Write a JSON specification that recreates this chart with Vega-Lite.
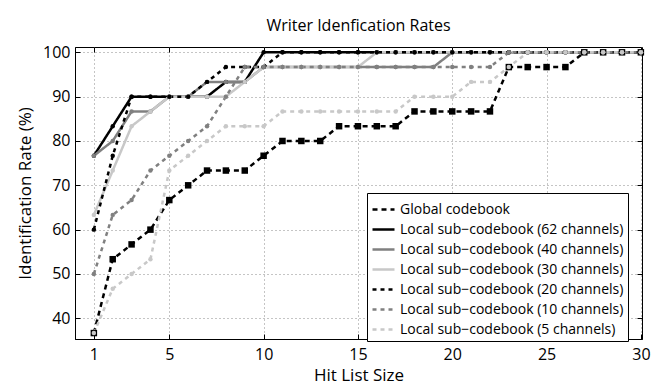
{
  "$schema": "https://vega.github.io/schema/vega-lite/v6.json",
  "width": 567,
  "height": 292,
  "autosize": {"type": "none"},
  "padding": {"left": 75, "top": 47, "right": 11, "bottom": 46},
  "background": "white",
  "title": {"text": "Writer Idenfication Rates", "fontSize": 16, "font": "Open Sans", "fontWeight": "normal", "color": "black", "offset": 10},
  "config": {
    "view": {"stroke": "black", "strokeWidth": 1},
    "font": "Open Sans",
    "axis": {"labelFont": "Open Sans", "titleFont": "Open Sans", "labelFontSize": 16, "titleFontSize": 17, "titleFontWeight": "normal", "labelColor": "black", "titleColor": "black", "domainColor": "black", "tickColor": "black", "gridColor": "#8a8a8a", "gridDash": [1, 3], "gridOpacity": 1, "tickSize": -5, "domainWidth": 1},
    "legend": {"orient": "none", "legendX": 292, "legendY": 146, "strokeColor": "black", "fillColor": "white", "padding": 4, "labelFont": "Open Sans", "labelFontSize": 14, "labelColor": "black", "labelLimit": 400, "symbolType": "stroke", "symbolSize": 484, "symbolStrokeWidth": 2.5, "rowPadding": -4.5, "labelOffset": 4}
  },
  "data": {"values": [
    {"x": 1, "Global codebook": 36.67, "Local sub−codebook (62 channels)": 76.67, "Local sub−codebook (40 channels)": 76.67, "Local sub−codebook (30 channels)": 63.33, "Local sub−codebook (20 channels)": 60, "Local sub−codebook (10 channels)": 50, "Local sub−codebook (5 channels)": 36.67},
    {"x": 2, "Global codebook": 53.33, "Local sub−codebook (62 channels)": 83.33, "Local sub−codebook (40 channels)": 80, "Local sub−codebook (30 channels)": 73.33, "Local sub−codebook (20 channels)": 76.67, "Local sub−codebook (10 channels)": 63.33, "Local sub−codebook (5 channels)": 46.67},
    {"x": 3, "Global codebook": 56.67, "Local sub−codebook (62 channels)": 90, "Local sub−codebook (40 channels)": 86.67, "Local sub−codebook (30 channels)": 83.33, "Local sub−codebook (20 channels)": 90, "Local sub−codebook (10 channels)": 66.67, "Local sub−codebook (5 channels)": 50},
    {"x": 4, "Global codebook": 60, "Local sub−codebook (62 channels)": 90, "Local sub−codebook (40 channels)": 86.67, "Local sub−codebook (30 channels)": 86.67, "Local sub−codebook (20 channels)": 90, "Local sub−codebook (10 channels)": 73.33, "Local sub−codebook (5 channels)": 53.33},
    {"x": 5, "Global codebook": 66.67, "Local sub−codebook (62 channels)": 90, "Local sub−codebook (40 channels)": 90, "Local sub−codebook (30 channels)": 90, "Local sub−codebook (20 channels)": 90, "Local sub−codebook (10 channels)": 76.67, "Local sub−codebook (5 channels)": 73.33},
    {"x": 6, "Global codebook": 70, "Local sub−codebook (62 channels)": 90, "Local sub−codebook (40 channels)": 90, "Local sub−codebook (30 channels)": 90, "Local sub−codebook (20 channels)": 90, "Local sub−codebook (10 channels)": 80, "Local sub−codebook (5 channels)": 76.67},
    {"x": 7, "Global codebook": 73.33, "Local sub−codebook (62 channels)": 90, "Local sub−codebook (40 channels)": 93.33, "Local sub−codebook (30 channels)": 90, "Local sub−codebook (20 channels)": 93.33, "Local sub−codebook (10 channels)": 83.33, "Local sub−codebook (5 channels)": 80},
    {"x": 8, "Global codebook": 73.33, "Local sub−codebook (62 channels)": 93.33, "Local sub−codebook (40 channels)": 93.33, "Local sub−codebook (30 channels)": 90, "Local sub−codebook (20 channels)": 96.67, "Local sub−codebook (10 channels)": 90, "Local sub−codebook (5 channels)": 83.33},
    {"x": 9, "Global codebook": 73.33, "Local sub−codebook (62 channels)": 93.33, "Local sub−codebook (40 channels)": 93.33, "Local sub−codebook (30 channels)": 93.33, "Local sub−codebook (20 channels)": 96.67, "Local sub−codebook (10 channels)": 96.67, "Local sub−codebook (5 channels)": 83.33},
    {"x": 10, "Global codebook": 76.67, "Local sub−codebook (62 channels)": 100, "Local sub−codebook (40 channels)": 96.67, "Local sub−codebook (30 channels)": 96.67, "Local sub−codebook (20 channels)": 96.67, "Local sub−codebook (10 channels)": 96.67, "Local sub−codebook (5 channels)": 83.33},
    {"x": 11, "Global codebook": 80, "Local sub−codebook (62 channels)": 100, "Local sub−codebook (40 channels)": 96.67, "Local sub−codebook (30 channels)": 96.67, "Local sub−codebook (20 channels)": 100, "Local sub−codebook (10 channels)": 96.67, "Local sub−codebook (5 channels)": 86.67},
    {"x": 12, "Global codebook": 80, "Local sub−codebook (62 channels)": 100, "Local sub−codebook (40 channels)": 96.67, "Local sub−codebook (30 channels)": 96.67, "Local sub−codebook (20 channels)": 100, "Local sub−codebook (10 channels)": 96.67, "Local sub−codebook (5 channels)": 86.67},
    {"x": 13, "Global codebook": 80, "Local sub−codebook (62 channels)": 100, "Local sub−codebook (40 channels)": 96.67, "Local sub−codebook (30 channels)": 96.67, "Local sub−codebook (20 channels)": 100, "Local sub−codebook (10 channels)": 96.67, "Local sub−codebook (5 channels)": 86.67},
    {"x": 14, "Global codebook": 83.33, "Local sub−codebook (62 channels)": 100, "Local sub−codebook (40 channels)": 96.67, "Local sub−codebook (30 channels)": 96.67, "Local sub−codebook (20 channels)": 100, "Local sub−codebook (10 channels)": 96.67, "Local sub−codebook (5 channels)": 86.67},
    {"x": 15, "Global codebook": 83.33, "Local sub−codebook (62 channels)": 100, "Local sub−codebook (40 channels)": 96.67, "Local sub−codebook (30 channels)": 96.67, "Local sub−codebook (20 channels)": 100, "Local sub−codebook (10 channels)": 96.67, "Local sub−codebook (5 channels)": 86.67},
    {"x": 16, "Global codebook": 83.33, "Local sub−codebook (62 channels)": 100, "Local sub−codebook (40 channels)": 96.67, "Local sub−codebook (30 channels)": 100, "Local sub−codebook (20 channels)": 100, "Local sub−codebook (10 channels)": 96.67, "Local sub−codebook (5 channels)": 86.67},
    {"x": 17, "Global codebook": 83.33, "Local sub−codebook (62 channels)": 100, "Local sub−codebook (40 channels)": 96.67, "Local sub−codebook (30 channels)": 100, "Local sub−codebook (20 channels)": 100, "Local sub−codebook (10 channels)": 96.67, "Local sub−codebook (5 channels)": 86.67},
    {"x": 18, "Global codebook": 86.67, "Local sub−codebook (62 channels)": 100, "Local sub−codebook (40 channels)": 96.67, "Local sub−codebook (30 channels)": 100, "Local sub−codebook (20 channels)": 100, "Local sub−codebook (10 channels)": 96.67, "Local sub−codebook (5 channels)": 90},
    {"x": 19, "Global codebook": 86.67, "Local sub−codebook (62 channels)": 100, "Local sub−codebook (40 channels)": 96.67, "Local sub−codebook (30 channels)": 100, "Local sub−codebook (20 channels)": 100, "Local sub−codebook (10 channels)": 96.67, "Local sub−codebook (5 channels)": 90},
    {"x": 20, "Global codebook": 86.67, "Local sub−codebook (62 channels)": 100, "Local sub−codebook (40 channels)": 100, "Local sub−codebook (30 channels)": 100, "Local sub−codebook (20 channels)": 100, "Local sub−codebook (10 channels)": 96.67, "Local sub−codebook (5 channels)": 90},
    {"x": 21, "Global codebook": 86.67, "Local sub−codebook (62 channels)": 100, "Local sub−codebook (40 channels)": 100, "Local sub−codebook (30 channels)": 100, "Local sub−codebook (20 channels)": 100, "Local sub−codebook (10 channels)": 96.67, "Local sub−codebook (5 channels)": 93.33},
    {"x": 22, "Global codebook": 86.67, "Local sub−codebook (62 channels)": 100, "Local sub−codebook (40 channels)": 100, "Local sub−codebook (30 channels)": 100, "Local sub−codebook (20 channels)": 100, "Local sub−codebook (10 channels)": 96.67, "Local sub−codebook (5 channels)": 93.33},
    {"x": 23, "Global codebook": 96.67, "Local sub−codebook (62 channels)": 100, "Local sub−codebook (40 channels)": 100, "Local sub−codebook (30 channels)": 100, "Local sub−codebook (20 channels)": 100, "Local sub−codebook (10 channels)": 100, "Local sub−codebook (5 channels)": 96.67},
    {"x": 24, "Global codebook": 96.67, "Local sub−codebook (62 channels)": 100, "Local sub−codebook (40 channels)": 100, "Local sub−codebook (30 channels)": 100, "Local sub−codebook (20 channels)": 100, "Local sub−codebook (10 channels)": 100, "Local sub−codebook (5 channels)": 100},
    {"x": 25, "Global codebook": 96.67, "Local sub−codebook (62 channels)": 100, "Local sub−codebook (40 channels)": 100, "Local sub−codebook (30 channels)": 100, "Local sub−codebook (20 channels)": 100, "Local sub−codebook (10 channels)": 100, "Local sub−codebook (5 channels)": 100},
    {"x": 26, "Global codebook": 96.67, "Local sub−codebook (62 channels)": 100, "Local sub−codebook (40 channels)": 100, "Local sub−codebook (30 channels)": 100, "Local sub−codebook (20 channels)": 100, "Local sub−codebook (10 channels)": 100, "Local sub−codebook (5 channels)": 100},
    {"x": 27, "Global codebook": 100, "Local sub−codebook (62 channels)": 100, "Local sub−codebook (40 channels)": 100, "Local sub−codebook (30 channels)": 100, "Local sub−codebook (20 channels)": 100, "Local sub−codebook (10 channels)": 100, "Local sub−codebook (5 channels)": 100},
    {"x": 28, "Global codebook": 100, "Local sub−codebook (62 channels)": 100, "Local sub−codebook (40 channels)": 100, "Local sub−codebook (30 channels)": 100, "Local sub−codebook (20 channels)": 100, "Local sub−codebook (10 channels)": 100, "Local sub−codebook (5 channels)": 100},
    {"x": 29, "Global codebook": 100, "Local sub−codebook (62 channels)": 100, "Local sub−codebook (40 channels)": 100, "Local sub−codebook (30 channels)": 100, "Local sub−codebook (20 channels)": 100, "Local sub−codebook (10 channels)": 100, "Local sub−codebook (5 channels)": 100},
    {"x": 30, "Global codebook": 100, "Local sub−codebook (62 channels)": 100, "Local sub−codebook (40 channels)": 100, "Local sub−codebook (30 channels)": 100, "Local sub−codebook (20 channels)": 100, "Local sub−codebook (10 channels)": 100, "Local sub−codebook (5 channels)": 100}
  ]},
  "transform": [
    {"fold": ["Global codebook", "Local sub−codebook (62 channels)", "Local sub−codebook (40 channels)", "Local sub−codebook (30 channels)", "Local sub−codebook (20 channels)", "Local sub−codebook (10 channels)", "Local sub−codebook (5 channels)"], "as": ["series", "y"]}
  ],
  "layer": [
    {
      "mark": {"type": "line", "strokeWidth": 2.5, "clip": false},
      "encoding": {
        "x": {"field": "x", "type": "quantitative", "scale": {"domain": [0, 30.06], "nice": false, "zero": false}, "axis": {"values": [1, 5, 10, 15, 20, 25, 30], "title": "Hit List Size", "labelPadding": 12, "titlePadding": 5, "grid": true}},
        "y": {"field": "y", "type": "quantitative", "scale": {"domain": [35.33, 101.2], "nice": false, "zero": false}, "axis": {"values": [40, 50, 60, 70, 80, 90, 100], "title": "Identification Rate (%)", "labelPadding": 10, "titlePadding": 8, "grid": true}},
        "color": {"field": "series", "type": "nominal", "scale": {"domain": ["Global codebook", "Local sub−codebook (62 channels)", "Local sub−codebook (40 channels)", "Local sub−codebook (30 channels)", "Local sub−codebook (20 channels)", "Local sub−codebook (10 channels)", "Local sub−codebook (5 channels)"], "range": ["#000000", "#000000", "#808080", "#c8c8c8", "#000000", "#808080", "#c8c8c8"]}, "legend": {"title": null, "symbolType": "stroke"}},
        "strokeDash": {"field": "series", "type": "nominal", "scale": {"domain": ["Global codebook", "Local sub−codebook (62 channels)", "Local sub−codebook (40 channels)", "Local sub−codebook (30 channels)", "Local sub−codebook (20 channels)", "Local sub−codebook (10 channels)", "Local sub−codebook (5 channels)"], "range": [[5, 4], [1, 0], [1, 0], [1, 0], [4, 4], [4, 4], [4, 4]]}, "legend": {"title": null, "symbolType": "stroke"}}
      }
    },
    {
      "transform": [{"filter": "datum.series === 'Global codebook'"}],
      "mark": {"type": "square", "filled": true, "opacity": 1, "size": 42, "color": "#000000"},
      "encoding": {
        "x": {"field": "x", "type": "quantitative", "axis": {"orient": "top", "values": [1, 5, 10, 15, 20, 25, 30], "labels": false, "title": null, "grid": false, "domain": false}},
        "y": {"field": "y", "type": "quantitative", "axis": {"orient": "right", "values": [40, 50, 60, 70, 80, 90, 100], "labels": false, "title": null, "grid": false, "domain": false}}
      }
    },
    {
      "transform": [{"filter": "datum.series !== 'Global codebook'"}],
      "mark": {"type": "circle", "opacity": 1, "size": 20},
      "encoding": {
        "x": {"field": "x", "type": "quantitative", "axis": null},
        "y": {"field": "y", "type": "quantitative", "axis": null},
        "fill": {"field": "series", "type": "nominal", "scale": {"domain": ["Global codebook", "Local sub−codebook (62 channels)", "Local sub−codebook (40 channels)", "Local sub−codebook (30 channels)", "Local sub−codebook (20 channels)", "Local sub−codebook (10 channels)", "Local sub−codebook (5 channels)"], "range": ["#000000", "#000000", "#808080", "#c8c8c8", "#000000", "#808080", "#c8c8c8"]}, "legend": null}
      }
    }
  ],
  "resolve": {"axis": {"x": "independent", "y": "independent"}}
}
